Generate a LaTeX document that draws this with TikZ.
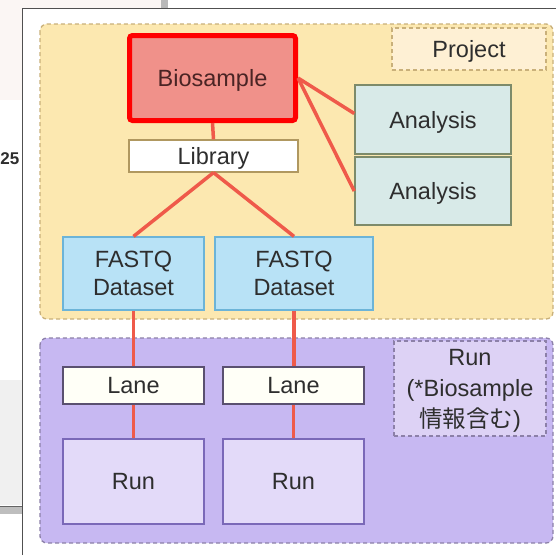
\documentclass[tikz,border=0pt]{standalone}
\usepackage{fontspec}
\setmainfont{Liberation Sans}
\newfontfamily\cjkjp{Noto Sans CJK JP}
\usetikzlibrary{positioning}
\definecolor{projfill}{HTML}{FCE8B0}
\definecolor{projline}{HTML}{C9B07A}
\definecolor{projlab}{HTML}{FEF0D4}
\definecolor{biofill}{HTML}{F0918A}
\definecolor{biotxt}{HTML}{4A2424}
\definecolor{libline}{HTML}{B09860}
\definecolor{anfill}{HTML}{D8EAE8}
\definecolor{anline}{HTML}{7D8B6A}
\definecolor{fqfill}{HTML}{B8E2F6}
\definecolor{fqline}{HTML}{6CB4D8}
\definecolor{runreg}{HTML}{C7B8F2}
\definecolor{runregline}{HTML}{8C80A8}
\definecolor{runlab}{HTML}{DDD2F5}
\definecolor{laneline}{HTML}{5A5070}
\definecolor{runfill}{HTML}{E3DAF9}
\definecolor{runline}{HTML}{7A68B8}
\definecolor{conn}{HTML}{EF5A4A}
\definecolor{txt}{HTML}{2E2E2E}
\definecolor{pinkbg}{HTML}{FBF6F4}
\definecolor{graybar}{HTML}{B9B9B9}
\definecolor{grayband}{HTML}{F0F0F0}
\definecolor{graylow}{HTML}{BEBEBE}
\definecolor{grayline}{HTML}{646464}
\definecolor{frame}{HTML}{505050}
\tikzset{
  basebox/.style={draw, rectangle, inner sep=0pt, text=txt, align=center, text depth=0pt,
    font=\fontsize{23.5}{28}\selectfont},
  biobox/.style={basebox, draw=red, line width=5pt, fill=biofill, rounded corners=3pt, text=biotxt},
  libbox/.style={basebox, draw=libline, line width=1.2pt, fill=white},
  anbox/.style={basebox, draw=anline, line width=1.5pt, fill=anfill},
  fqbox/.style={basebox, draw=fqline, line width=1.2pt, fill=fqfill},
  lanebox/.style={basebox, draw=laneline, line width=1.2pt, fill=white!97!yellow},
  runbox/.style={basebox, draw=runline, line width=1.2pt, fill=runfill},
  region/.style={draw, line width=1.3pt, dash pattern=on 4pt off 3pt, rounded corners=7pt},
  labbox/.style={basebox, line width=1.3pt, dash pattern=on 4pt off 3pt},
  link/.style={draw=conn, line width=3.5pt}
}
\begin{document}
\begin{tikzpicture}[x=1pt,y=-1pt]
\useasboundingbox (0,0) rectangle (556,555);
% screenshot background
\fill[white] (0,0) rectangle (556,555);
\fill[pinkbg] (0,0) rectangle (161,8);
\fill[pinkbg] (0,0) rectangle (22,100);
\fill[graybar] (161,0) rectangle (168,8);
\fill[grayband] (0,380) rectangle (22,505);
\fill[graylow] (0,507) rectangle (22,514);
\draw[grayline, line width=1pt] (0,506) -- (22,506);
\node[anchor=east, inner sep=0pt, text=txt, font=\bfseries\fontsize{17}{17}\selectfont] (num) at (19.5,159) {25};
\draw[frame, line width=1.5pt] (22.5,555) -- (22.5,8.5) -- (556,8.5);
% regions
\draw[region, draw=projline, fill=projfill] (40,24) rectangle (553,319);
\draw[region, draw=runregline, fill=runreg] (40,338) rectangle (553,543);
\node[labbox, draw=projline, fill=projlab, minimum width=154pt, minimum height=42pt] (projlab) at (469,49) {Project};
\node[labbox, draw=runregline, fill=runlab, minimum width=152pt, minimum height=95pt,
  font=\fontsize{23.5}{31}\selectfont] (runlab) at (470,388.5) {Run\\(*Biosample\\{\cjkjp 情報含む})};
% nodes
\node[biobox, minimum width=166pt, minimum height=85pt] (bio) at (212.5,78) {Biosample};
\node[libbox, minimum width=169pt, minimum height=32pt] (lib) at (213.5,156) {Library};
\node[anbox, minimum width=156pt, minimum height=69pt] (an1) at (433,119.5) {Analysis};
\node[anbox, minimum width=156pt, minimum height=68pt] (an2) at (433,191) {Analysis};
\node[fqbox, minimum width=141pt, minimum height=73pt] (fq1) at (133.5,273.5) {FASTQ\\Dataset};
\node[fqbox, minimum width=158pt, minimum height=73pt] (fq2) at (294,273.5) {FASTQ\\Dataset};
\node[lanebox, minimum width=141pt, minimum height=37pt] (lane1) at (133.5,385.5) {Lane};
\node[lanebox, minimum width=141pt, minimum height=37pt] (lane2) at (293.5,385.5) {Lane};
\node[runbox, minimum width=141pt, minimum height=85pt] (run1) at (133.5,481.5) {Run};
\node[runbox, minimum width=141pt, minimum height=85pt] (run2) at (293.5,481.5) {Run};
% connectors
\draw[link] (bio.south) -- (lib.north);
\draw[link] (bio.east) -- ([yshift=6pt]an1.west);
\draw[link] (bio.east) -- (an2.west);
\draw[link] (lib.south) -- (fq1.north);
\draw[link] (lib.south) -- (fq2.north);
\draw[link] (fq1.south) -- (lane1.north);
\draw[link] (lane1.south) -- (run1.north);
\draw[link] (fq2.south) -- (fq2.south |- lane2.north);
\draw[link] (lane2.south) -- (run2.north);
\end{tikzpicture}
\end{document}
